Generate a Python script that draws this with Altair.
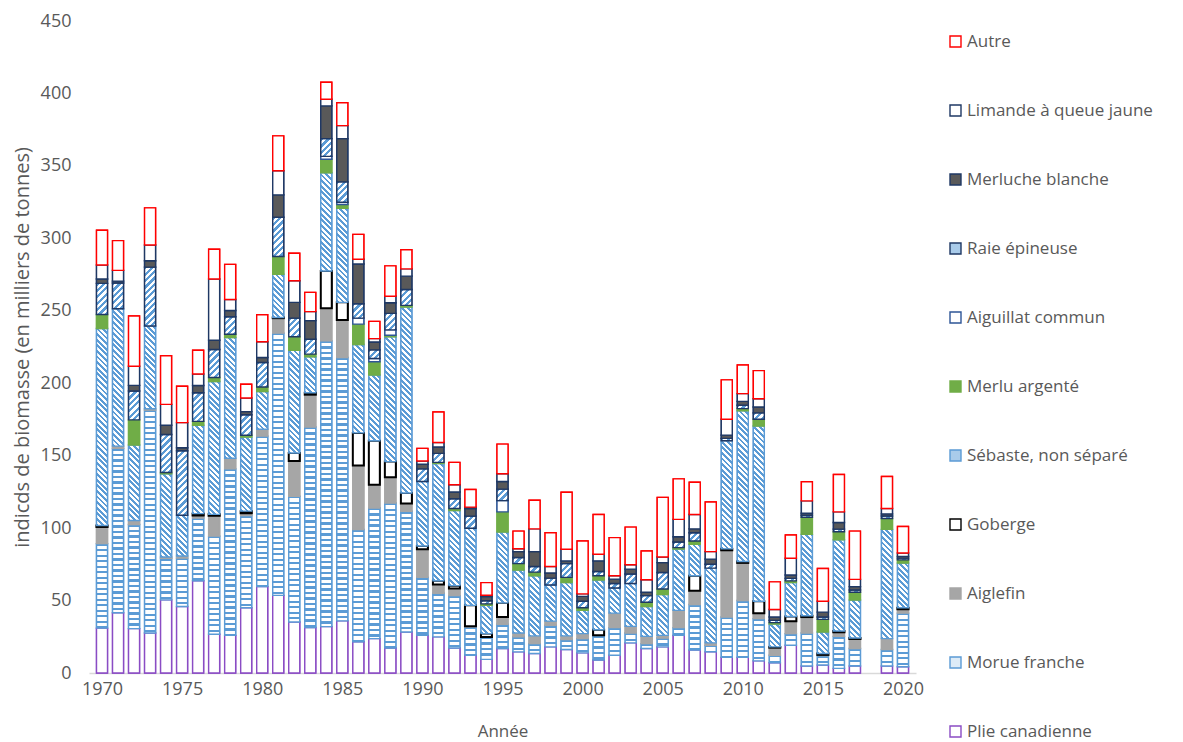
import altair as alt

years = list(range(1970, 2021))

# Values (thousands of tonnes); None = no survey (2018)
plie = [31, 41.6, 30.6, 27.6, 50.5, 45.9, 63.7, 26.7, 26, 45, 59.6, 53.6, 35.2, 31.4, 32, 36, 21.6, 23.7, 17.3, 28.3,
        26, 24.9, 17.3, 12.3, 9.4, 16.9, 14.6, 13.5, 18, 16.2, 13.9, 8.9, 12.3, 20.8, 16.9, 18, 26, 15.8, 14.6, 10.8,
        10.8, 8.4, 7.1, 19.2, 4.8, 5.5, 3.2, 4.8, None, 4.8, 4.3]
morue = [58.3, 113.4, 71.9, 153.8, 28.6, 33.4, 43.3, 67.8, 114.9, 63.7, 103.9, 181, 86.8, 138.4, 197.2, 181.8, 77.4, 90.2, 100, 83.3,
         40, 30.1, 36.1, 19.5, 15.5, 16.7, 10.3, 6.8, 14.9, 6.9, 9.8, 17.1, 19, 6.8, 3.4, 6.2, 5.3, 31.5, 4.6, 27.8,
         39.2, 29.1, 5.2, 8, 22.8, 6.5, 22.1, 12.1, None, 11.4, 37]
aiglefin = [11.5, 1.6, 2.8, 1, 1, 1.5, 1.7, 14, 7.3, 1.5, 4.7, 10.3, 24.4, 22.3, 22.5, 25.8, 44.2, 16, 17.8, 5.3,
            19.4, 6, 5, 0.5, 0, 5, 2.7, 5.3, 2.9, 2.5, 3.5, 0, 10, 4.6, 5, 1.8, 11.9, 9.5, 1.6, 46.1,
            26, 3.8, 5.2, 8.6, 11, 0.5, 2.8, 6.6, None, 7.5, 2.7]
goberge = [1, 0, 0, 0, 0, 0, 1.3, 1, 0, 1.5, 0, 0.5, 5.4, 1.3, 25.8, 12.2, 22.5, 30.4, 10.8, 7.3,
           2.3, 2.7, 1.9, 14.4, 2.3, 9.8, 0, 0, 0, 0, 0, 3.9, 0, 0, 0, 0, 0, 10.3, 0, 1,
           1, 8.2, 0.5, 3.2, 0.9, 1, 0.9, 0.7, None, 0, 1]
sebaste = [136, 94.8, 52.1, 57.1, 57.3, 28.1, 61, 91.7, 83.3, 51.1, 26, 29.8, 70.9, 24.8, 67.8, 65, 61, 45.4, 86.1, 128.4,
           44.5, 80.9, 51.8, 53.2, 19.5, 48.9, 43.4, 41.5, 24.9, 36.9, 16, 34.3, 17.4, 29.6, 20.6, 28.1, 42.3, 21.7, 51.6, 74.6,
           104, 121, 15.8, 23.5, 56.2, 14.8, 63, 26.2, None, 75.4, 30.8]
merlu = [9.6, 0, 17.3, 0, 1, 0, 2.7, 2.7, 2.3, 1.3, 3.2, 12.3, 9.4, 1.9, 9.3, 2.6, 14.1, 9.1, 1.1, 1.1,
         0, 0.8, 1.4, 0, 1, 13.9, 4.5, 2.5, 0, 3.5, 1.8, 2.9, 0, 0, 2.9, 3.9, 1, 2.3, 0, 0,
         1.5, 4.6, 1, 1.1, 11.8, 8.7, 5.5, 5.3, None, 7.5, 2.3]
aiguillat = [0, 0, 0, 0, 0, 0, 0, 0, 0, 0, 0, 0, 0, 0, 2, 1.5, 4.1, 2.3, 3.7, 0,
             0, 0, 0, 0, 0, 7.8, 0, 0, 0, 0, 0, 0, 0, 0, 0, 0, 0, 0, 0, 0,
             0, 0, 0, 0, 0, 0, 0, 0, None, 0, 0]
raie = [21.5, 17.8, 19.9, 40.6, 26.2, 44.5, 19.7, 19.4, 12.1, 14.1, 16.9, 27, 12.8, 10.3, 12.2, 14.1, 10, 5.9, 11.4, 11,
        8.7, 6.2, 6.8, 8.4, 2.2, 7.9, 4.2, 3.9, 4.8, 9.5, 4.5, 3, 3.1, 6.5, 4.6, 11.4, 3.9, 5.7, 2.7, 1.6,
        2.3, 4.4, 1.5, 1.7, 1.4, 1.6, 1.8, 1.6, None, 1.8, 1.2]
merluche = [3, 1.3, 3.9, 4.4, 6.4, 2.1, 5, 6.4, 4.3, 2.2, 3.5, 15.5, 10.9, 12.8, 22.6, 29.8, 27.4, 5.5, 7.3, 9.2,
            3.2, 4.4, 4.6, 5.2, 2.8, 5.3, 4.1, 10.3, 3.5, 1.9, 3.4, 7.3, 3, 3.4, 2.3, 6.8, 3.6, 2.7, 3.5, 2.3,
            2.7, 4.1, 2.3, 2.3, 1.4, 3.4, 4.6, 2.3, None, 1.4, 1.2]
limande = [9.7, 7.4, 13.2, 10.9, 14.4, 17.3, 8, 42.2, 7.6, 9.4, 10.8, 16.6, 14.9, 6.2, 4.6, 9, 3.3, 2.3, 4.5, 5,
           2.2, 3.1, 5, 1, 1, 5.3, 2, 15.7, 4.5, 8, 1.7, 4.6, 2.3, 3, 8.7, 3.9, 12, 9.9, 5.2, 10.9,
           5.3, 5.7, 5.2, 11.6, 8.5, 7.5, 7.3, 5, None, 3.7, 2.3]
autre = [24, 20.5, 34.7, 25.6, 33.6, 25.1, 16.4, 20.6, 24.2, 9.5, 18.7, 24.1, 19, 13.3, 11.7, 15.8, 17.1, 11.9, 21, 13.2,
         8.7, 21, 15.5, 12.1, 8.7, 20.5, 12.1, 19.7, 23.3, 39.3, 36.5, 27.4, 26.3, 26, 19.8, 41.1, 28, 22.3, 34.2, 27.2,
         19.8, 19.4, 19.1, 16, 13.2, 22.6, 25.8, 33.3, None, 22.1, 18.3]

species = ["Plie canadienne", "Morue franche", "Aiglefin", "Goberge", "Sébaste, non séparé", "Merlu argenté",
           "Aiguillat commun", "Raie épineuse", "Merluche blanche", "Limande à queue jaune", "Autre"]
series = [plie, morue, aiglefin, goberge, sebaste, merlu, aiguillat, raie, merluche, limande, autre]

# styles
BLUE = "#5B9BD5"
fills = {"Plie canadienne": "#ffffff", "Morue franche": "#ffffff", "Aiglefin": "#A6A6A6", "Goberge": "#ffffff",
         "Sébaste, non séparé": "#ffffff", "Merlu argenté": "#70AD47", "Aiguillat commun": "#ffffff",
         "Raie épineuse": "#ffffff", "Merluche blanche": "#595959", "Limande à queue jaune": "#ffffff",
         "Autre": "#ffffff"}
legend_fills = dict(fills)
legend_fills.update({"Morue franche": "#DDEBF7", "Sébaste, non séparé": "#A9CBEA", "Raie épineuse": "#A9CBEA"})
strokes = {"Plie canadienne": "#8A4CC4", "Morue franche": BLUE, "Aiglefin": "#A6A6A6", "Goberge": "#000000",
           "Sébaste, non séparé": BLUE, "Merlu argenté": "#70AD47", "Aiguillat commun": "#2E5597",
           "Raie épineuse": "#1F3864", "Merluche blanche": "#1F3864", "Limande à queue jaune": "#1F3864",
           "Autre": "#FF0000"}
stroke_w = {"Goberge": 2.0}
patterns = {"Morue franche": ("h", 5.5, 0.4), "Sébaste, non séparé": ("b", 5.6, 0.5), "Raie épineuse": ("f", 6.4, 0.5)}

PLOT_W, PLOT_H = 827, 652
YMAX = 450
BAR_W = 11
PX = PLOT_H / YMAX


def stripes(gid, kind, h, pitch, frac, color):
    w = BAR_W
    if kind == "h":
        L = h
        x1, y1, x2, y2 = 0, 0, 0, 1
    else:
        L = w + h
        s = L / (w * w + h * h)
        if kind == "b":
            x1, y1, x2, y2 = 0, 1, s * w, 1 - s * h
        else:
            x1, y1, x2, y2 = 0, 0, s * w, s * h
    n = L / pitch
    stops = []
    k = 0
    while k < n:
        a = k / n
        b = min((k + frac) / n, 1)
        c = min((k + 1) / n, 1)
        stops += [{"offset": round(a, 5), "color": color}, {"offset": round(b, 5), "color": color},
                  {"offset": round(b, 5), "color": "#ffffff"}, {"offset": round(c, 5), "color": "#ffffff"}]
        k += 1
    return {"id": gid, "gradient": "linear", "x1": round(x1, 5), "y1": round(y1, 5),
            "x2": round(x2, 5), "y2": round(y2, 5), "stops": stops}


records = []
for i, yr in enumerate(years):
    for j, sp in enumerate(species):
        v = series[j][i]
        if v is None or v <= 0:
            continue
        f = fills[sp]
        if sp in patterns:
            kind, pitch, frac = patterns[sp]
            f = stripes(f"pat_{j}_{yr}", kind, v * PX, pitch, frac, BLUE)
        records.append({"year": yr, "species": sp, "order": j, "value": v, "fill": f,
                        "stroke": strokes[sp], "sw": stroke_w.get(sp, 1.4)})

legend_order = list(reversed(species))
FONT = "Open Sans"
GREY = "#595959"

leg = alt.Legend(title=None, orient="none", legendX=858, legendY=12, symbolType="square", symbolSize=121,
                 symbolStrokeWidth=1.4, labelFontSize=17, labelColor=GREY, labelFont=FONT, labelLimit=300,
                 rowPadding=51, labelOffset=3, padding=0)

base = alt.Chart(alt.Data(values=records)).transform_stack(
    stack="value", groupby=["year"], sort=[alt.SortField(field="order", order="ascending")], as_=["y0", "y1"]
)

x_enc = alt.X("year:Q", scale=alt.Scale(domain=[1969.5, 2020.5], nice=False, zero=False),
              axis=alt.Axis(values=list(range(1970, 2021, 5)), format="d", title="Année", grid=False, ticks=False,
                            domainColor="#D9D9D9", domainWidth=1.5, labelFontSize=18, labelColor=GREY, labelFont=FONT,
                            labelPadding=7, titleFontSize=17, titleColor=GREY, titleFont=FONT,
                            titleFontWeight="normal", titlePadding=25))
y_enc = alt.Y("y0:Q", scale=alt.Scale(domain=[0, YMAX], nice=False),
              axis=alt.Axis(values=list(range(0, 451, 50)), grid=False, ticks=False, domain=False, labelFontSize=18,
                            labelColor=GREY, labelFont=FONT, labelPadding=18,
                            title="indicds de biomasse (en milliers de tonnes)", titleFontSize=20, titleColor=GREY,
                            titleFont=FONT, titleFontWeight="normal", titlePadding=8))

legend_layer = base.mark_bar(width=BAR_W, strokeWidth=1.4).encode(
    x=x_enc, y=y_enc, y2="y1:Q",
    fill=alt.Fill("species:N", scale=alt.Scale(domain=legend_order, range=[legend_fills[s] for s in legend_order]),
                  legend=leg),
    stroke=alt.Stroke("species:N", scale=alt.Scale(domain=legend_order, range=[strokes[s] for s in legend_order]),
                      legend=leg),
)
pattern_layer = base.mark_bar(width=BAR_W).encode(
    x=x_enc, y=y_enc, y2="y1:Q",
    fill=alt.Fill("fill:N", scale=None),
    stroke=alt.Stroke("stroke:N", scale=None),
    strokeWidth=alt.StrokeWidth("sw:Q", scale=None),
)

chart = alt.layer(legend_layer, pattern_layer).resolve_scale(fill="independent", stroke="independent").properties(
    width=PLOT_W, height=PLOT_H,
    padding={"left": 81, "top": 13, "right": 255, "bottom": 76},
    autosize=alt.AutoSizeParams(type="none"),
    background="white",
).configure(font=FONT, view=alt.ViewConfig(stroke=None))

chart.save("out.html", embed_options={"renderer": "svg", "actions": False})
